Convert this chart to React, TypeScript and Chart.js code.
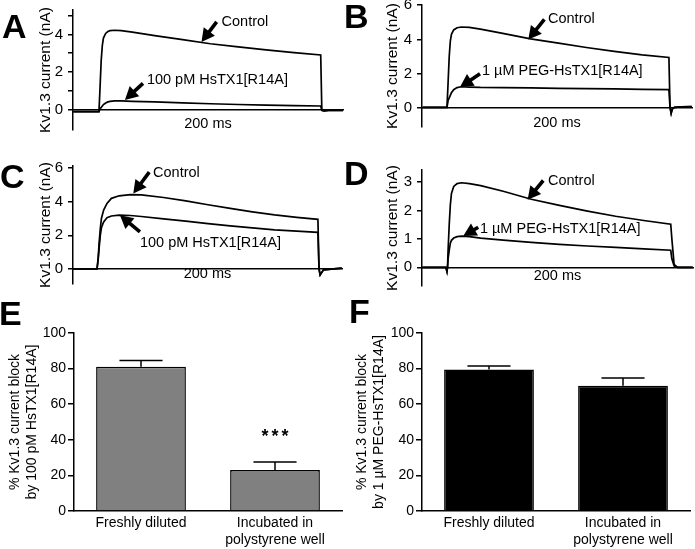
import React, { useEffect, useRef } from 'react';
import { Chart, registerables } from 'chart.js';

Chart.register(...registerables);

const FONT = '"Liberation Sans", Arial, Helvetica, sans-serif';

// ---------- Data: current traces (time in ms, current in nA) ----------
const TIME_A = [-23, -1, 0, 1, 2, 3, 4, 6, 8, 10, 14, 20, 30, 50, 75, 100, 125, 150, 175, 199, 200, 202, 206, 219];
const A_CONTROL = [-0.12, -0.12, -0.12, 1.2, 2.6, 3.4, 3.8, 4.05, 4.15, 4.2, 4.22, 4.2, 4.12, 3.93, 3.72, 3.5, 3.33, 3.17, 3.03, 2.9, -0.05, -0.08, -0.06, -0.06];
const A_TOXIN = [-0.12, -0.12, -0.12, 0.02, 0.1, 0.18, 0.25, 0.34, 0.4, 0.43, 0.45, 0.45, 0.43, 0.4, 0.35, 0.3, 0.26, 0.23, 0.2, 0.18, -0.05, -0.08, -0.06, -0.06];

const TIME_B = [-22, -1, 0, 1, 2, 3, 4, 6, 9, 13, 20, 30, 50, 75, 100, 125, 150, 175, 199, 200, 201, 202, 204, 210, 219.5];
const B_CONTROL = [0.05, 0.05, 0.05, 1.5, 3.0, 3.9, 4.3, 4.55, 4.68, 4.72, 4.7, 4.6, 4.35, 4.03, 3.78, 3.53, 3.3, 3.1, 2.95, 0.05, -0.3, -0.05, 0.05, 0.08, 0.1];
const B_PEG = [0.05, 0.05, 0.05, 0.45, 0.6, 0.75, 0.9, 1.08, 1.2, 1.25, 1.23, 1.21, 1.2, 1.18, 1.16, 1.14, 1.12, 1.1, 1.08, 0.05, -0.3, -0.05, 0.05, 0.08, 0.1];

const TIME_C = [-21.5, -1, 0, 1, 2, 3, 4, 6, 9, 13, 20, 30, 40, 60, 80, 100, 120, 140, 160, 180, 199, 200, 201, 204, 220.5];
const C_CONTROL = [0, 0, 0, 0.6, 1.6, 2.4, 3.0, 3.5, 3.9, 4.2, 4.35, 4.42, 4.4, 4.25, 4.05, 3.82, 3.6, 3.4, 3.22, 3.07, 2.95, 0, -0.35, -0.05, 0.05];
const C_TOXIN = [0, 0, 0, 0.5, 1.3, 2.0, 2.45, 2.8, 3.05, 3.15, 3.2, 3.18, 3.12, 2.98, 2.84, 2.7, 2.56, 2.44, 2.33, 2.25, 2.18, 0, -0.35, -0.05, 0.05];

const TIME_D = [-22, -1, 0, 0.5, 1, 2, 3, 4, 6, 9, 13, 20, 30, 50, 75, 100, 125, 150, 175, 199, 200, 202, 205, 210, 218.5];
const D_CONTROL = [0, 0, -0.15, 0, 0.6, 1.5, 2.2, 2.6, 2.85, 2.95, 2.98, 2.95, 2.88, 2.68, 2.4, 2.18, 1.98, 1.8, 1.65, 1.52, 1.0, 0.1, 0, 0, 0];
const D_PEG = [0, 0, -0.15, 0, 0.3, 0.6, 0.85, 0.95, 1.03, 1.08, 1.1, 1.08, 1.03, 0.96, 0.88, 0.81, 0.75, 0.7, 0.65, 0.6, 0.3, 0.05, 0, 0, 0];

// Tick values and labelled ticks
const TICKS_A = [0, 1, 2, 3, 4, 5];
const LABELS_A = [0, 2, 4];
const TICKS_B = [0, 1, 2, 3, 4, 5, 6];
const LABELS_B = [0, 2, 4, 6];
const TICKS_C = [0, 1, 2, 3, 4, 5, 6];
const LABELS_C = [0, 2, 4, 6];
const TICKS_D = [0, 1, 2, 3];
const LABELS_D = [0, 1, 2, 3];

// Annotation anchors (data units: ms, nA)
const NOTES_A = [
  { text: 'Control', at: [110, 4.66], tail: [105.6, 4.67], tip: [92, 3.6] },
  { text: '100 pM HsTX1[R14A]', at: [43, 1.56], tail: [39.5, 1.39], tip: [23.3, 0.5] },
];
const NOTES_B = [
  { text: 'Control', at: [90.6, 5.16], tail: [87.3, 5.16], tip: [72.9, 3.99] },
  { text: '1 \u00b5M PEG-HsTX1[R14A]', at: [31.4, 2.18], tail: [29.6, 2.0], tip: [11.7, 1.23] },
];
const NOTES_C = [
  { text: 'Control', at: [50.5, 5.68], tail: [47.1, 5.76], tip: [32.7, 4.48] },
  { text: '100 pM HsTX1[R14A]', at: [38.7, 1.54], tail: [38.7, 2.2], tip: [20.7, 3.2] },
];
const NOTES_D = [
  { text: 'Control', at: [89.8, 3.05], tail: [85.6, 3.06], tip: [71.7, 2.38] },
  { text: '1 \u00b5M PEG-HsTX1[R14A]', at: [29.3, 1.35], tail: [27.8, 1.41], tip: [14.5, 1.1] },
];

// ---------- Data: bar charts ----------
const CATEGORIES = [['Freshly diluted'], ['Incubated in', 'polystyrene well']];
const E_VALUES = [81, 23];
const E_ERRORS = [3.5, 4.5];
const E_MARKS = ['', '***'];
const F_VALUES = [79.5, 70.3];
const F_ERRORS = [2, 4.4];
const F_MARKS = ['', ''];
const BAR_TICK_STEP = 20;

// ---------- plugins ----------
function notesPlugin(notes: any[]) {
  return {
    id: 'notes',
    afterDatasetsDraw(chart: any) {
      const { ctx } = chart;
      const xs = chart.scales.x;
      const ys = chart.scales.y;
      ctx.save();
      ctx.fillStyle = '#000';
      ctx.strokeStyle = '#000';
      ctx.font = '14.5px ' + FONT;
      ctx.textAlign = 'left';
      ctx.textBaseline = 'middle';
      for (const n of notes) {
        ctx.fillText(n.text, xs.getPixelForValue(n.at[0]), ys.getPixelForValue(n.at[1]));
        const x0 = xs.getPixelForValue(n.tail[0]);
        const y0 = ys.getPixelForValue(n.tail[1]);
        const x1 = xs.getPixelForValue(n.tip[0]);
        const y1 = ys.getPixelForValue(n.tip[1]);
        const len = Math.hypot(x1 - x0, y1 - y0) || 1;
        const dx = (x1 - x0) / len;
        const dy = (y1 - y0) / len;
        const L = 13;
        const W = 7;
        const bx = x1 - dx * L;
        const by = y1 - dy * L;
        ctx.lineWidth = 3.6;
        ctx.lineCap = 'butt';
        ctx.beginPath();
        ctx.moveTo(x0, y0);
        ctx.lineTo(bx + dx, by + dy);
        ctx.stroke();
        ctx.beginPath();
        ctx.moveTo(x1, y1);
        ctx.lineTo(bx - dy * W, by + dx * W);
        ctx.lineTo(bx + dy * W, by - dx * W);
        ctx.closePath();
        ctx.fill();
      }
      ctx.restore();
    },
  };
}

function errorBarPlugin(errs: number[], marks: string[]) {
  return {
    id: 'errbars',
    afterDatasetsDraw(chart: any) {
      const ctx = chart.ctx;
      const meta = chart.getDatasetMeta(0);
      const ys = chart.scales.y;
      const vals = chart.data.datasets[0].data;
      ctx.save();
      ctx.strokeStyle = '#000';
      ctx.fillStyle = '#000';
      ctx.lineWidth = 1.5;
      meta.data.forEach((bar: any, i: number) => {
        const top = ys.getPixelForValue(vals[i] + errs[i]);
        const half = bar.width * 0.24;
        ctx.beginPath();
        ctx.moveTo(bar.x, bar.y);
        ctx.lineTo(bar.x, top);
        ctx.moveTo(bar.x - half, top);
        ctx.lineTo(bar.x + half, top);
        ctx.stroke();
        if (marks[i]) {
          ctx.font = 'bold 18px ' + FONT;
          (ctx as any).letterSpacing = '3px';
          ctx.textAlign = 'center';
          ctx.textBaseline = 'middle';
          ctx.fillText(marks[i], bar.x + 1.5, top - 25);
        }
      });
      ctx.restore();
    },
  };
}

// ---------- config builders ----------
function traceConfig(p: any) {
  return {
    type: 'line',
    data: {
      datasets: p.series.map((s: number[]) => ({
        data: p.time.map((t: number, i: number) => ({ x: t, y: s[i] })),
        borderColor: '#000',
        borderWidth: 1.7,
        pointRadius: 0,
        tension: 0,
        fill: false,
      })),
    },
    options: {
      responsive: false,
      animation: false,
      events: [],
      layout: { padding: { top: p.pad[0], right: p.pad[1], bottom: p.pad[2], left: 0 } },
      plugins: { legend: { display: false }, tooltip: { enabled: false } },
      scales: {
        x: {
          type: 'linear',
          min: p.xr[0],
          max: p.xr[1],
          position: { y: 0 },
          grid: { display: false, drawTicks: false },
          ticks: { display: false },
          border: { display: true, color: '#000', width: 1.5 },
          title: {
            display: true,
            text: '200 ms',
            color: '#000',
            font: { size: 14.5, family: FONT },
            padding: { top: p.msPad, bottom: 0 },
          },
          afterFit(s: any) {
            s.paddingLeft = 0;
            s.paddingRight = 0;
          },
        },
        y: {
          type: 'linear',
          min: p.yr[0],
          max: p.yr[1],
          afterBuildTicks(s: any) {
            s.ticks = p.ticks.map((v: number) => ({ value: v }));
          },
          ticks: {
            callback: (v: number) => (p.labels.includes(v) ? String(v) : ''),
            color: '#000',
            font: { size: 15, family: FONT },
            padding: 5,
          },
          grid: { display: true, drawOnChartArea: false, drawTicks: true, tickLength: 5, color: '#000', lineWidth: 1.5 },
          border: { display: true, color: '#000', width: 1.5 },
          title: {
            display: true,
            text: 'Kv1.3 current (nA)',
            color: '#000',
            font: { size: 15.5, family: FONT },
            padding: { top: 36, bottom: 0 },
          },
          afterFit(s: any) {
            s.width = p.axisW;
            s.paddingTop = 0;
            s.paddingBottom = 0;
          },
        },
      },
    },
    plugins: [notesPlugin(p.notes)],
  };
}

function barConfig(p: any) {
  return {
    type: 'bar',
    data: {
      labels: CATEGORIES,
      datasets: [
        {
          data: p.values,
          backgroundColor: p.color,
          borderColor: '#000',
          borderWidth: 1.5,
          barPercentage: 0.67,
          categoryPercentage: 1,
        },
      ],
    },
    options: {
      responsive: false,
      animation: false,
      events: [],
      layout: { padding: { top: p.pad[0], right: p.pad[1], bottom: 0, left: 0 } },
      plugins: { legend: { display: false }, tooltip: { enabled: false } },
      scales: {
        x: {
          grid: { display: false, drawTicks: false },
          border: { display: true, color: '#000', width: 1.5 },
          ticks: { color: '#000', font: { size: 14, family: FONT }, padding: 4, maxRotation: 0, autoSkip: false },
          afterFit(s: any) {
            s.height = p.xAxisH;
            s.paddingLeft = 0;
            s.paddingRight = 0;
          },
        },
        y: {
          min: 0,
          max: 100,
          ticks: { stepSize: BAR_TICK_STEP, color: '#000', font: { size: 14, family: FONT }, padding: 2 },
          grid: { display: true, drawOnChartArea: false, drawTicks: true, tickLength: 6, color: '#000', lineWidth: 1.5 },
          border: { display: true, color: '#000', width: 1.5 },
          title: {
            display: true,
            text: p.title,
            color: '#000',
            font: { size: 14, family: FONT },
            padding: { top: 6.5, bottom: 0 },
          },
          afterFit(s: any) {
            s.width = p.axisW;
            s.paddingTop = 0;
            s.paddingBottom = 0;
          },
        },
      },
    },
    plugins: [errorBarPlugin(p.errors, p.marks)],
  };
}

function ChartCanvas({ left, top, width, height, config }: any) {
  const ref = useRef<HTMLCanvasElement | null>(null);
  useEffect(() => {
    if (!ref.current) return;
    const chart = new Chart(ref.current, config);
    return () => chart.destroy();
  }, []);
  return (
    <canvas
      ref={ref}
      width={width}
      height={height}
      style={{ position: 'absolute', left, top, width, height }}
    />
  );
}

function Letter({ ch, left, top }: any) {
  return (
    <div
      style={{
        position: 'absolute',
        left,
        top,
        fontFamily: FONT,
        fontWeight: 'bold',
        fontSize: 34,
        lineHeight: '34px',
        color: '#000',
      }}
    >
      {ch}
    </div>
  );
}

export default function App() {
  const cfgA = traceConfig({
    time: TIME_A, series: [A_CONTROL, A_TOXIN], notes: NOTES_A,
    ticks: TICKS_A, labels: LABELS_A, yr: [-1.1, 5.3], xr: [-23.3, 219],
    pad: [10, 4, 10], axisW: 73, msPad: 5.6,
  });
  const cfgB = traceConfig({
    time: TIME_B, series: [B_CONTROL, B_PEG], notes: NOTES_B,
    ticks: TICKS_B, labels: LABELS_B, yr: [-1.09, 6], xr: [-22.4, 219.7],
    pad: [5, 3, 13], axisW: 75, msPad: 5.6,
  });
  const cfgC = traceConfig({
    time: TIME_C, series: [C_CONTROL, C_TOXIN], notes: NOTES_C,
    ticks: TICKS_C, labels: LABELS_C, yr: [-0.89, 6.12], xr: [-21.6, 220.7],
    pad: [21, 5, 6], axisW: 73, msPad: -3.4,
  });
  const cfgD = traceConfig({
    time: TIME_D, series: [D_CONTROL, D_PEG], notes: NOTES_D,
    ticks: TICKS_D, labels: LABELS_D, yr: [-0.66, 3.43], xr: [-22.2, 218.8],
    pad: [25, 2, 4], axisW: 75, msPad: -0.4,
  });
  const cfgE = barConfig({
    values: E_VALUES, errors: E_ERRORS, marks: E_MARKS, color: '#808080',
    title: ['% Kv1.3 current block', 'by 100 pM HsTX1[R14A]'],
    pad: [43, 5], axisW: 74, xAxisH: 38,
  });
  const cfgF = barConfig({
    values: F_VALUES, errors: F_ERRORS, marks: F_MARKS, color: '#000000',
    title: ['% Kv1.3 current block', 'by 1 \u00b5M PEG-HsTX1[R14A]'],
    pad: [43, 5], axisW: 75, xAxisH: 38,
  });

  return (
    <div style={{ position: 'absolute', left: 0, top: 0, width: 695, height: 549, background: '#fff', overflow: 'hidden' }}>
      <ChartCanvas left={0} top={0} width={347} height={140} config={cfgA} />
      <ChartCanvas left={347} top={0} width={348} height={140} config={cfgB} />
      <ChartCanvas left={0} top={145} width={347} height={145} config={cfgC} />
      <ChartCanvas left={347} top={145} width={348} height={145} config={cfgD} />
      <ChartCanvas left={0} top={290} width={347} height={259} config={cfgE} />
      <ChartCanvas left={347} top={290} width={348} height={259} config={cfgF} />
      <Letter ch="A" left={2} top={9} />
      <Letter ch="B" left={344} top={-1} />
      <Letter ch="C" left={0} top={159} />
      <Letter ch="D" left={344} top={156} />
      <Letter ch="E" left={-1} top={296} />
      <Letter ch="F" left={349} top={294} />
    </div>
  );
}
